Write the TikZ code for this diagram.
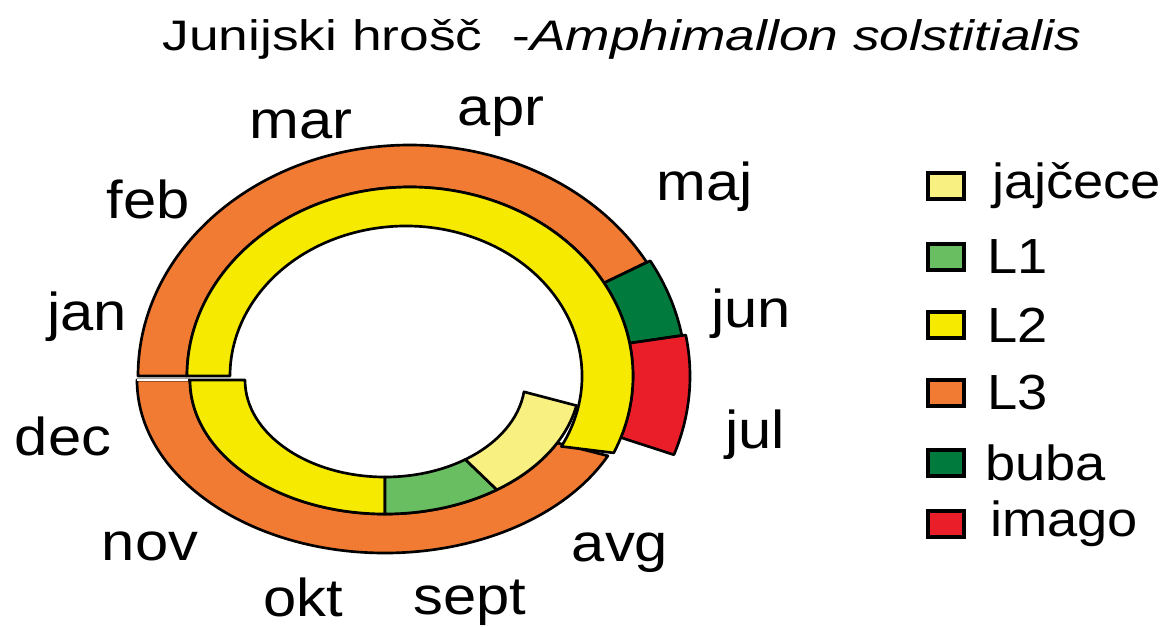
\documentclass[tikz,border=0pt]{standalone}
\usepackage{fontspec}
\setmainfont{Liberation Sans}
\newfontfamily\monthfont[FakeStretch=1.12]{Liberation Sans}
\newfontfamily\legfont[FakeStretch=1.1]{Liberation Sans}
\newfontfamily\titlefont[FakeStretch=1.25]{Liberation Sans}
\definecolor{cL3}{RGB}{242,123,51}
\definecolor{cL2}{RGB}{245,234,0}
\definecolor{cEgg}{RGB}{248,240,128}
\definecolor{cL1}{RGB}{106,190,98}
\definecolor{cBuba}{RGB}{0,122,61}
\definecolor{cImago}{RGB}{233,30,40}
% #1 colour, #2 rx out, #3 ry out, #4 rx in, #5 ry in, #6 start, #7 end (outer), #8 end (inner)
\newcommand\rseg[8]{%
  \filldraw[seg,fill=#1] (#6:#2 and #3) arc[start angle=#6,end angle=#7,x radius=#2,y radius=#3]
    -- (#8:#4 and #5) arc[start angle=#8,end angle=#6,x radius=#4,y radius=#5] -- cycle;}
\begin{document}
\begin{tikzpicture}[x=0.75pt,y=-0.75pt,
  seg/.style={draw=black,line width=2pt,line join=round},
  month/.style={font=\monthfont\fontsize{40}{42}\selectfont,anchor=base,inner sep=0pt},
  legbox/.style={draw=black,line width=3pt,minimum width=27pt,minimum height=19pt,inner sep=0pt},
  legtext/.style={font=\legfont\fontsize{37}{40}\selectfont,anchor=west,inner sep=0pt}]
\useasboundingbox[fill=white] (0,0) rectangle (1163,626);
% title
\node[font=\titlefont\fontsize{32}{36}\selectfont,anchor=base] (title) at (622,50)
  {Junijski hrošč\ \ -\textit{Amphimallon solstitialis}};
% lower half of the cycle
\begin{scope}[shift={(385,380)}]
  \rseg{cL3}{248}{173}{195}{134}{180}{26}{28}
  \rseg{cL2}{195}{134}{140}{97}{180}{90}{90}
  \rseg{cL1}{195}{134}{140}{97}{90}{55}{55}
  \rseg{cEgg}{195}{134}{140}{97}{55}{11}{7}
\end{scope}
% upper half of the cycle
\begin{scope}[shift={(410,376)}]
  \rseg{cL3}{272}{231}{223}{189}{-180}{-29.5}{-29.5}
  \rseg{cBuba}{276}{234}{223}{189}{-29.5}{-10}{-10}
  \rseg{cImago}{280}{236}{223}{189}{-10}{19.5}{19}
  \filldraw[seg,fill=cL2] (-180:223 and 189)
    arc[start angle=-180,end angle=24,x radius=223,y radius=189]
    -- ([shift={(-4,0)}]28:176 and 150)
    arc[start angle=28,end angle=-180,x radius=176,y radius=150] -- cycle;
\end{scope}
\draw[white,line width=1.6pt] (136.5,380) -- (188,380);
% months
\node[month] (mar) at (301,138) {mar};
\node[month] (apr) at (501,125) {apr};
\node[month] (maj) at (705,200) {maj};
\node[month] (feb) at (148,218) {feb};
\node[month] (jan) at (87,330) {jan};
\node[month] (jun) at (751,327) {jun};
\node[month] (jul) at (755,448) {jul};
\node[month] (dec) at (63,455) {dec};
\node[month] (nov) at (150,560) {nov};
\node[month] (avg) at (620,561) {avg};
\node[month] (okt) at (303,616) {okt};
\node[month] (sept) at (470,614) {sept};
% legend
\node[legbox,fill=cEgg]   (b1) at (946,186) {};
\node[legbox,fill=cL1]    (b2) at (946,257) {};
\node[legbox,fill=cL2]    (b3) at (946,325) {};
\node[legbox,fill=cL3]    (b4) at (946,393) {};
\node[legbox,fill=cBuba]  (b5) at (946,463) {};
\node[legbox,fill=cImago] (b6) at (946,524) {};
\node[legtext] (t1) at (992,186) {jajčece};
\node[legtext] (t2) at (987,257) {L1};
\node[legtext] (t3) at (987,325) {L2};
\node[legtext] (t4) at (987,393) {L3};
\node[legtext] (t5) at (985,463) {buba};
\node[legtext] (t6) at (990,524) {imago};
\end{tikzpicture}
\end{document}
